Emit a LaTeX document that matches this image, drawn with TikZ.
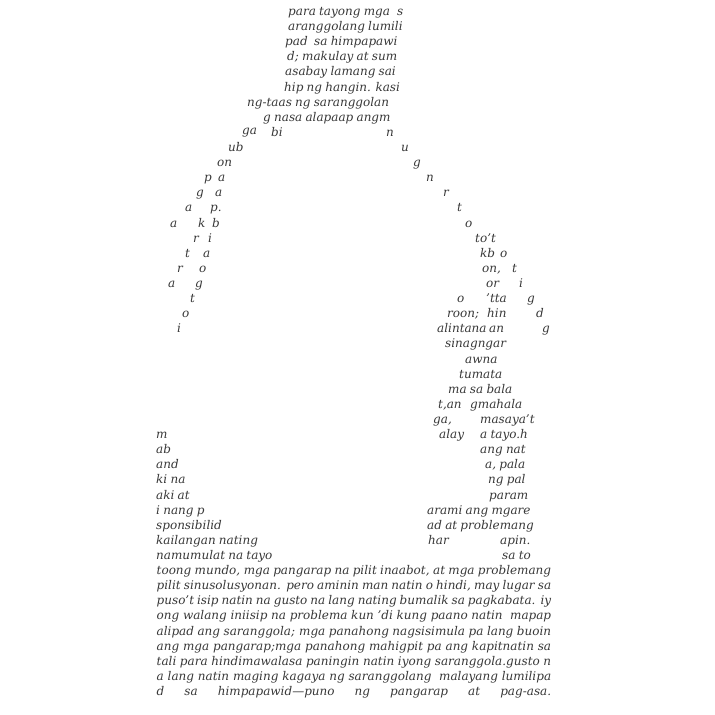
\documentclass[tikz,border=0pt]{standalone}
\usepackage{fontspec}
\setmainfont{DejaVu Serif}
\newcommand{\txtfont}{\fontsize{12}{14}\selectfont\itshape\spaceskip=0.27em plus 0.1em minus 0.05em\relax}
\newcommand{\jline}[1]{{\spaceskip=0.22em plus 3em minus 0.1em\relax\makebox[394.5pt][s]{#1}}}
\begin{document}
\begin{tikzpicture}[x=1pt,y=-15.11pt,
  txt/.style={anchor=base west,inner sep=0pt,font=\txtfont,text=black!78},
  jus/.style={txt}]
\useasboundingbox (0,-1.026) rectangle (715,46.29);
% top block
\node[txt] (r1a) at (288,0) {para tayong mga};
\node[txt] (r1b) at (397,0) {s};
\node[txt] (r2a) at (288,1) {aranggolang lumili};
\node[txt] (r3a) at (285,2) {pad};
\node[txt] (r3b) at (314,2) {sa himpapawi};
\node[txt] (r4a) at (287,3) {d;};
\node[txt] (r4b) at (302,3) {makulay at sum};
\node[txt] (r5a) at (285,4) {asabay lamang sai};
\node[txt] (r6a) at (284,5) {hip ng hangin. kasi};
\node[txt] (r7a) at (247,6) {ng-taas ng saranggolan};
\node[txt] (r8a) at (263,7) {g nasa alapaap angm};
% arch
\node[txt] (r9a) at (242,7.85) {ga};
\node[txt] (r9b) at (271,8) {bi};
\node[txt] (r9c) at (386,8) {n};
\node[txt] (r10a) at (228,9) {ub};
\node[txt] (r10b) at (401,9) {u};
\node[txt] (r11a) at (217,10) {on};
\node[txt] (r11b) at (413,10) {g};
\node[txt] (r12a) at (204,11) {p};
\node[txt] (r12b) at (218,11) {a};
\node[txt] (r12c) at (426,11) {n};
\node[txt] (r13a) at (196,12) {g};
\node[txt] (r13b) at (215,12) {a};
\node[txt] (r13c) at (443,12) {r};
\node[txt] (r14a) at (185,13) {a};
\node[txt] (r14b) at (210,13) {p.};
\node[txt] (r14c) at (457,13) {t};
\node[txt] (r15a) at (170,14) {a};
\node[txt] (r15b) at (198,14) {k};
\node[txt] (r15c) at (212,14) {b};
\node[txt] (r15d) at (465,14) {o};
\node[txt] (r16a) at (193,15) {r};
\node[txt] (r16b) at (208,15) {i};
\node[txt] (r16c) at (475,15) {to't};
\node[txt] (r17a) at (185,16) {t};
\node[txt] (r17b) at (203,16) {a};
\node[txt] (r17c) at (480,16) {kb};
\node[txt] (r17d) at (500,16) {o};
\node[txt] (r18a) at (177,17) {r};
\node[txt] (r18b) at (199,17) {o};
\node[txt] (r18c) at (482,17) {on,};
\node[txt] (r18d) at (512,17) {t};
\node[txt] (r19a) at (168,18) {a};
\node[txt] (r19b) at (195,18) {g};
\node[txt] (r19c) at (486,18) {or};
\node[txt] (r19d) at (519,18) {i};
\node[txt] (r20a) at (190,19) {t};
\node[txt] (r20b) at (457,19) {o};
\node[txt] (r20c) at (486,19) {'tta};
\node[txt] (r20d) at (527,19) {g};
\node[txt] (r21a) at (182,20) {o};
\node[txt] (r21b) at (447,20) {roon;};
\node[txt] (r21c) at (487,20) {hin};
\node[txt] (r21d) at (536,20) {d};
\node[txt] (r22a) at (177,21) {i};
\node[txt] (r22b) at (437,21) {alintana};
\node[txt] (r22c) at (489,21) {an};
\node[txt] (r22d) at (542,21) {g};
% right column
\node[txt] (r23a) at (445,22) {sinagngar};
\node[txt] (r24a) at (465,23) {awna};
\node[txt] (r25a) at (459,24) {tumata};
\node[txt] (r26a) at (448,25) {ma sa bala};
\node[txt] (r27a) at (438,26) {t,an};
\node[txt] (r27b) at (470,26) {gmahala};
\node[txt] (r28a) at (433,27) {ga,};
\node[txt] (r28b) at (480,27) {masaya't};
\node[txt] (r29a) at (156,28) {m};
\node[txt] (r29b) at (439,28) {alay};
\node[txt] (r29c) at (480,28) {a tayo.h};
\node[txt] (r30a) at (156,29) {ab};
\node[txt] (r30b) at (480,29) {ang nat};
\node[txt] (r31a) at (156,30) {and};
\node[txt] (r31b) at (485,30) {a, pala};
\node[txt] (r32a) at (156,31) {ki na};
\node[txt] (r32b) at (488,31) {ng pal};
\node[txt] (r33a) at (156,32) {aki at};
\node[txt] (r33b) at (489,32) {param};
\node[txt] (r34a) at (156,33) {i nang p};
\node[txt] (r34b) at (427,33) {arami ang mgare};
\node[txt] (r35a) at (156,34) {sponsibilid};
\node[txt] (r35b) at (427,34) {ad at problemang};
\node[txt] (r36a) at (156,35) {kailangan nating};
\node[txt] (r36b) at (428,35) {har};
\node[txt] (r36c) at (500,35) {apin.};
\node[txt] (r37a) at (156,36) {namumulat na tayo};
\node[txt] (r37b) at (502,36) {sa to};
% bottom block
\node[jus] (r38) at (156.5,37) {\jline{toong mundo, mga pangarap na pilit inaabot, at mga problemang}};
\node[jus] (r39) at (156.5,38) {\jline{pilit sinusolusyonan. pero aminin man natin o hindi, may lugar sa}};
\node[jus] (r40) at (156.5,39) {\jline{puso't isip natin na gusto na lang nating bumalik sa pagkabata. iy}};
\node[jus] (r41) at (156.5,40) {\jline{ong walang iniisip na problema kun 'di kung paano natin\ \ mapap}};
\node[jus] (r42) at (156.5,41) {\jline{alipad ang saranggola; mga panahong nagsisimula pa lang buoin}};
\node[jus] (r43) at (156.5,42) {\jline{ang mga pangarap;mga panahong mahigpit pa ang kapitnatin sa}};
\node[jus] (r44) at (156.5,43) {\jline{tali para hindimawalasa paningin natin iyong saranggola.gusto n}};
\node[jus] (r45) at (156.5,44) {\jline{a lang natin maging kagaya ng saranggolang\ \ malayang lumilipa}};
\node[jus] (r46) at (156.5,45) {\jline{d sa himpapawid—puno ng pangarap at pag-asa.}};
\end{tikzpicture}
\end{document}
